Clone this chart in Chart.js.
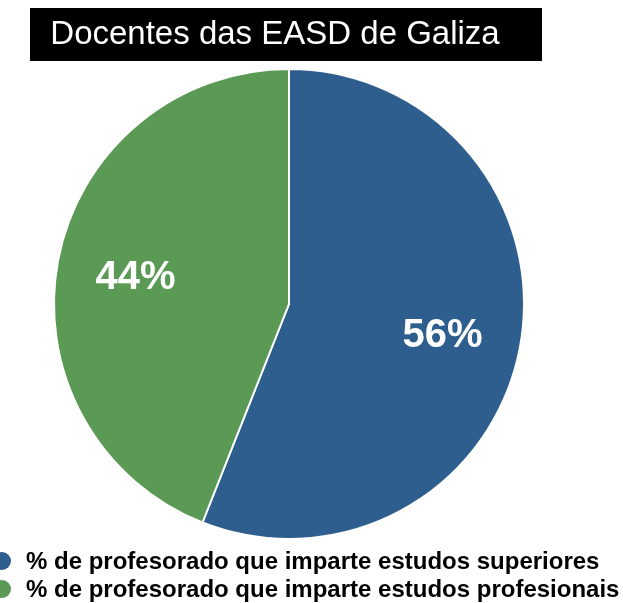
<!DOCTYPE html>
<html>
<head>
<meta charset="utf-8">
<title>Docentes das EASD de Galiza</title>
<script src="https://cdn.jsdelivr.net/npm/chart.js@4/dist/chart.umd.min.js"></script>
<style>
  html, body { margin: 0; padding: 0; background: #ffffff; }
  #wrap { position: relative; width: 623px; height: 603px; }
</style>
</head>
<body>
<div id="wrap"><canvas id="pieChart" width="623" height="603"></canvas></div>
<script>
const chartTitle = 'Docentes das EASD de Galiza';
const categories = [
    '% de profesorado que imparte estudos superiores',
    '% de profesorado que imparte estudos profesionais'
];
const shares = [56, 44];
const sliceColors = ['#2e5e8e', '#5b9a55'];

const fontFamily = "'Liberation Sans', Arial, Helvetica, sans-serif";

// black title box at the top
const titleBox = {
    id: 'titleBox',
    afterDraw(chart) {
        const ctx = chart.ctx;
        ctx.save();
        ctx.fillStyle = '#000000';
        ctx.fillRect(30, 8, 512, 53);
        ctx.fillStyle = '#ffffff';
        ctx.font = '33px ' + fontFamily;
        ctx.textAlign = 'center';
        ctx.textBaseline = 'middle';
        ctx.fillText(chartTitle, 275, 35);
        ctx.restore();
    }
};

// percent labels inside the slices
const sliceLabels = {
    id: 'sliceLabels',
    afterDatasetsDraw(chart) {
        const ctx = chart.ctx;
        const meta = chart.getDatasetMeta(0);
        ctx.save();
        ctx.fillStyle = '#ffffff';
        ctx.font = 'bold 40px ' + fontFamily;
        ctx.textAlign = 'center';
        ctx.textBaseline = 'middle';
        meta.data.forEach((arc, i) => {
            const mid = (arc.startAngle + arc.endAngle) / 2;
            const r = arc.outerRadius * 0.665;
            ctx.fillText(shares[i] + '%', arc.x + Math.cos(mid) * r, arc.y + Math.sin(mid) * r + 3);
        });
        ctx.restore();
    }
};

// legend in the bottom-left corner, markers half off the edge
const bottomLegend = {
    id: 'bottomLegend',
    afterDraw(chart) {
        const ctx = chart.ctx;
        ctx.save();
        ctx.font = 'bold 24px ' + fontFamily;
        ctx.textAlign = 'left';
        ctx.textBaseline = 'middle';
        categories.forEach((label, i) => {
            const y = 561 + i * 28;
            ctx.fillStyle = sliceColors[i];
            ctx.beginPath();
            ctx.arc(2, y, 9, 0, Math.PI * 2);
            ctx.fill();
            ctx.fillStyle = '#000000';
            ctx.fillText(label, 26, y + 1);
        });
        ctx.restore();
    }
};

new Chart(document.getElementById('pieChart'), {
    type: 'pie',
    data: {
        labels: categories,
        datasets: [{
            data: shares,
            backgroundColor: sliceColors,
            borderColor: '#ffffff',
            borderWidth: 2,
            hoverOffset: 0
        }]
    },
    options: {
        responsive: false,
        animation: false,
        radius: 235,
        layout: {
            padding: { left: 49, right: 94, top: 64, bottom: 59 }
        },
        plugins: {
            legend: { display: false },
            title: { display: false },
            tooltip: { enabled: false }
        }
    },
    plugins: [titleBox, sliceLabels, bottomLegend]
});
</script>
</body>
</html>
